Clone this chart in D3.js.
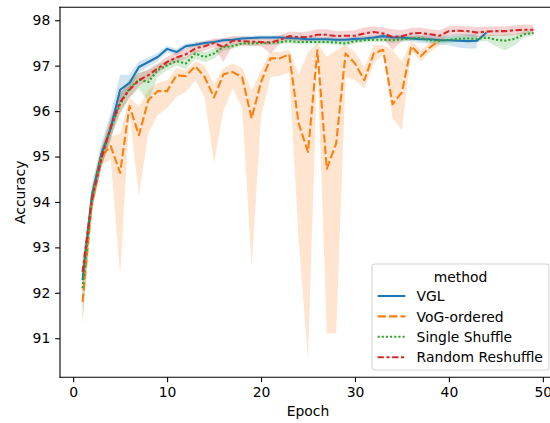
<!DOCTYPE html>
<html>
<head>
<meta charset="utf-8">
<script src="https://cdn.jsdelivr.net/npm/d3@7"></script>
<style>
  html, body { margin: 0; padding: 0; background: #fff; }
  svg { display: block; font-family: "DejaVu Sans", sans-serif; }
</style>
</head>
<body>
<svg id="chart" width="550" height="423"></svg>
<script>
// Test accuracy per epoch for four data-ordering methods (mean with 95% CI band)
const methods = ["VGL", "VoG-ordered", "Single Shuffle", "Random Reshuffle"];

const vglMean = [92.28, 94.15, 95.05, 95.62, 96.47, 96.62, 96.97, 97.08, 97.19, 97.37,
  97.30, 97.43, 97.46, 97.50, 97.52, 97.56, 97.57, 97.60, 97.61, 97.62,
  97.62, 97.62, 97.61, 97.60, 97.58, 97.58, 97.58, 97.57, 97.57, 97.59,
  97.60, 97.62, 97.65, 97.62, 97.62, 97.60, 97.58, 97.58, 97.56, 97.56,
  97.55, 97.54, 97.55, 97.73];
const vglLo = [91.95, 93.85, 94.80, 95.35, 96.20, 96.45, 96.85, 96.98, 97.10, 97.30,
  97.22, 97.37, 97.41, 97.45, 97.47, 97.51, 97.52, 97.55, 97.56, 97.57,
  97.57, 97.57, 97.56, 97.55, 97.53, 97.53, 97.53, 97.52, 97.52, 97.54,
  97.55, 97.57, 97.60, 97.57, 97.56, 97.53, 97.50, 97.48, 97.46, 97.45,
  97.40, 97.38, 97.38, null];
const vglHi = [92.60, 94.40, 95.30, 95.95, 96.80, 96.80, 97.10, 97.18, 97.28, 97.44,
  97.37, 97.49, 97.52, 97.55, 97.57, 97.61, 97.62, 97.65, 97.66, 97.67,
  97.67, 97.67, 97.66, 97.65, 97.63, 97.63, 97.63, 97.62, 97.62, 97.64,
  97.65, 97.67, 97.70, 97.67, 97.68, 97.67, 97.66, 97.68, 97.66, 97.67,
  97.70, 97.70, 97.72, null];

const vogMean = [91.80, 94.00, 95.00, 95.23, 94.64, 96.11, 95.47, 96.24, 96.44, 96.44,
  96.79, 96.77, 96.99, 96.75, 96.30, 96.81, 96.86, 96.74, 95.84, 96.64,
  97.16, 97.16, 97.25, 95.73, 95.10, 97.34, 94.73, 95.29, 97.27, 97.05,
  96.68, 97.27, 97.35, 96.15, 96.42, 97.43, 97.21, 97.41, 97.55];
const vogLo = [91.45, 93.80, 94.80, 94.95, 92.39, 95.95, 94.13, 95.51, 95.91, 96.06,
  96.31, 96.42, 96.68, 96.30, 94.85, 96.02, 96.50, 96.06, 92.57, 95.87,
  96.75, 96.77, 96.85, 93.20, 90.52, 97.10, 91.11, 91.11, 96.75, 96.68,
  96.50, 97.05, 97.25, 95.84, 95.58, 97.33, 97.10, 97.30, 97.45];
const vogHi = [92.15, 94.20, 95.20, 95.45, 95.50, 96.30, 96.10, 96.46, 96.62, 96.68,
  96.95, 96.90, 97.10, 97.00, 96.60, 96.95, 97.05, 96.95, 96.45, 96.90,
  97.30, 97.30, 97.35, 96.80, 97.30, 97.50, 97.19, 97.34, 97.45, 97.30,
  96.97, 97.45, 97.45, 97.34, 97.10, 97.55, 97.35, 97.50, 97.62];

const ssMean = [92.10, 94.10, 95.00, 95.62, 96.15, 96.50, 96.69, 96.64, 96.90, 97.01,
  97.10, 97.05, 97.27, 97.19, 97.27, 97.41, 97.43, 97.49, 97.49, 97.50,
  97.50, 97.52, 97.54, 97.52, 97.52, 97.52, 97.52, 97.51, 97.49, 97.54,
  97.56, 97.57, 97.57, 97.56, 97.58, 97.60, 97.61, 97.56, 97.55, 97.57,
  97.59, 97.60, 97.59, 97.62, 97.57, 97.55, 97.59, 97.69, 97.72];
const ssLo = [91.30, 93.80, 94.75, 95.40, 95.95, 96.30, 96.50, 96.20, 96.75, 96.90,
  97.00, 96.92, 97.15, 97.08, 97.15, 97.33, 97.37, 97.44, 97.44, 97.45,
  97.45, 97.47, 97.49, 97.47, 97.47, 97.47, 97.47, 97.46, 97.43, 97.49,
  97.51, 97.52, 97.52, 97.50, 97.52, 97.55, 97.55, 97.50, 97.49, 97.50,
  97.52, 97.53, 97.52, 97.55, 97.42, 97.34, 97.45, 97.62, 97.66];
const ssHi = [92.60, 94.30, 95.20, 95.80, 96.40, 96.70, 96.85, 96.90, 97.02, 97.12,
  97.20, 97.18, 97.36, 97.30, 97.38, 97.48, 97.50, 97.54, 97.54, 97.55,
  97.55, 97.57, 97.59, 97.57, 97.57, 97.57, 97.57, 97.56, 97.55, 97.59,
  97.61, 97.62, 97.62, 97.62, 97.64, 97.65, 97.67, 97.62, 97.61, 97.64,
  97.66, 97.67, 97.66, 97.68, 97.67, 97.70, 97.70, 97.76, 97.78];

const rrMean = [92.46, 94.05, 94.95, 95.65, 96.20, 96.47, 96.68, 96.79, 96.94, 97.08,
  97.18, 97.25, 97.38, 97.43, 97.50, 97.41, 97.55, 97.54, 97.53, 97.52,
  97.51, 97.57, 97.65, 97.63, 97.63, 97.68, 97.68, 97.65, 97.66, 97.66,
  97.71, 97.74, 97.71, 97.63, 97.65, 97.71, 97.72, 97.69, 97.66, 97.76,
  97.77, 97.76, 97.73, 97.75, 97.76, 97.76, 97.78, 97.79, 97.79];
const rrLo = [92.20, 93.85, 94.75, 95.45, 95.95, 96.30, 96.55, 96.68, 96.84, 96.98,
  97.08, 97.15, 97.28, 97.33, 97.40, 97.08, 97.45, 97.45, 97.44, 97.43,
  97.27, 97.48, 97.57, 97.55, 97.54, 97.58, 97.58, 97.55, 97.56, 97.56,
  97.60, 97.63, 97.60, 97.34, 97.55, 97.60, 97.60, 97.58, 97.55, 97.66,
  97.67, 97.66, 97.63, 97.65, 97.66, 97.66, 97.68, 97.69, 97.70];
const rrHi = [92.75, 94.25, 95.15, 95.85, 96.40, 96.65, 96.82, 96.92, 97.05, 97.20,
  97.30, 97.37, 97.50, 97.54, 97.60, 97.60, 97.66, 97.64, 97.63, 97.62,
  97.63, 97.67, 97.75, 97.74, 97.75, 97.80, 97.80, 97.76, 97.77, 97.78,
  97.84, 97.87, 97.84, 97.80, 97.78, 97.83, 97.84, 97.80, 97.78, 97.87,
  97.88, 97.87, 97.85, 97.86, 97.87, 97.87, 97.89, 97.90, 97.90];

const xTicks = [0, 10, 20, 30, 40, 50];
const yTicks = [91, 92, 93, 94, 95, 96, 97, 98];

// matplotlib tab10 colours and seaborn's default dash sequence (scaled by line width)
const colors = ["#1f77b4", "#ff7f0e", "#2ca02c", "#d62728"];
const lw = 2.08;
const dashes = ["none",
  [4, 1.5].map(v => v * lw).join(","),
  [1, 1].map(v => v * lw).join(","),
  [3, 1.25, 1.5, 1.25].map(v => v * lw).join(",")];

const seriesMean = [vglMean, vogMean, ssMean, rrMean];
const seriesLo = [vglLo, vogLo, ssLo, rrLo];
const seriesHi = [vglHi, vogHi, ssHi, rrHi];

const W = 550, H = 423;
const plot = { left: 60, right: 556, top: 7.3, bottom: 377.3 };

const svg = d3.select("#chart");
svg.append("rect").attr("width", W).attr("height", H).attr("fill", "#fff");

const x = d3.scaleLinear().domain([-1.4, 51.4]).range([plot.left, plot.right]);
const y = d3.scaleLinear().domain([90.14, 98.285]).range([plot.bottom, plot.top]);

const series = methods.map((name, i) => ({
  name, color: colors[i], dash: dashes[i],
  pts: seriesMean[i].map((m, k) => ({ epoch: k + 1, mean: m, lo: seriesLo[i][k], hi: seriesHi[i][k] }))
}));

const clip = svg.append("clipPath").attr("id", "plotclip")
  .append("rect").attr("x", plot.left).attr("y", plot.top)
  .attr("width", plot.right - plot.left).attr("height", plot.bottom - plot.top);

const gPlot = svg.append("g").attr("clip-path", "url(#plotclip)");

// confidence bands first, underneath every line
const area = d3.area()
  .defined(d => d.lo != null && d.hi != null)
  .x(d => x(d.epoch)).y0(d => y(d.lo)).y1(d => y(d.hi));

gPlot.selectAll("path.band").data(series).join("path")
  .attr("class", "band")
  .attr("d", s => area(s.pts))
  .attr("fill", s => s.color)
  .attr("fill-opacity", 0.2)
  .attr("stroke", "none");

const line = d3.line().x(d => x(d.epoch)).y(d => y(d.mean));

gPlot.selectAll("path.mean").data(series).join("path")
  .attr("class", "mean")
  .attr("d", s => line(s.pts))
  .attr("fill", "none")
  .attr("stroke", s => s.color)
  .attr("stroke-width", lw)
  .attr("stroke-dasharray", s => s.dash)
  .attr("stroke-linejoin", "round")
  .attr("stroke-linecap", "butt");

// axes
const fontSize = 13.9;
const tickLen = 4.86;

const xAxis = d3.axisBottom(x).tickValues(xTicks).tickFormat(d3.format("d"))
  .tickSize(tickLen).tickPadding(4.86);
const gx = svg.append("g").attr("transform", `translate(0,${plot.bottom})`).call(xAxis);

const yAxis = d3.axisLeft(y).tickValues(yTicks).tickFormat(d3.format("d"))
  .tickSize(tickLen).tickPadding(4.86);
const gy = svg.append("g").attr("transform", `translate(${plot.left},0)`).call(yAxis);

[gx, gy].forEach(g => {
  g.select(".domain").remove();
  g.selectAll(".tick line").attr("stroke", "#000").attr("stroke-width", 1.1);
  g.selectAll(".tick text").attr("fill", "#000")
    .style("font-size", fontSize + "px").style("font-family", "DejaVu Sans");
});

// spines
const spine = svg.append("g").attr("fill", "none").attr("stroke", "#000").attr("stroke-width", 1.1)
  .attr("stroke-linecap", "square");
spine.append("line").attr("x1", plot.left).attr("x2", plot.right).attr("y1", plot.top).attr("y2", plot.top);
spine.append("line").attr("x1", plot.left).attr("x2", plot.right).attr("y1", plot.bottom).attr("y2", plot.bottom);
spine.append("line").attr("x1", plot.left).attr("x2", plot.left).attr("y1", plot.top).attr("y2", plot.bottom);
spine.append("line").attr("x1", plot.right).attr("x2", plot.right).attr("y1", plot.top).attr("y2", plot.bottom);

// axis titles
svg.append("text").attr("x", (plot.left + plot.right) / 2).attr("y", 416)
  .attr("text-anchor", "middle").style("font-size", fontSize + "px").attr("fill", "#000")
  .text("Epoch");
svg.append("text")
  .attr("transform", `translate(24.5,${(plot.top + plot.bottom) / 2}) rotate(-90)`)
  .attr("text-anchor", "middle").style("font-size", fontSize + "px").attr("fill", "#000")
  .text("Accuracy");

// legend, lower right
const lg = { left: 372, top: 264, right: 549, bottom: 370 };
const gl = svg.append("g");
gl.append("rect")
  .attr("x", lg.left).attr("y", lg.top)
  .attr("width", lg.right - lg.left).attr("height", lg.bottom - lg.top)
  .attr("rx", 2.8).attr("ry", 2.8)
  .attr("fill", "#fff").attr("fill-opacity", 0.8)
  .attr("stroke", "#cccccc").attr("stroke-opacity", 0.8).attr("stroke-width", 1.1);
gl.append("text").attr("x", (lg.left + lg.right) / 2).attr("y", 281.5)
  .attr("text-anchor", "middle").style("font-size", fontSize + "px").attr("fill", "#000")
  .text("method");

const rowBase = [301.2, 321.6, 342.0, 362.4];
series.forEach((s, i) => {
  const cy = rowBase[i] - 5.2;
  gl.append("line").attr("x1", 377.6).attr("x2", 405.4).attr("y1", cy).attr("y2", cy)
    .attr("stroke", s.color).attr("stroke-width", lw)
    .attr("stroke-dasharray", s.dash).attr("stroke-linecap", "butt");
  gl.append("text").attr("x", 416.6).attr("y", rowBase[i])
    .style("font-size", fontSize + "px").attr("fill", "#000")
    .text(s.name);
});
</script>
</body>
</html>
